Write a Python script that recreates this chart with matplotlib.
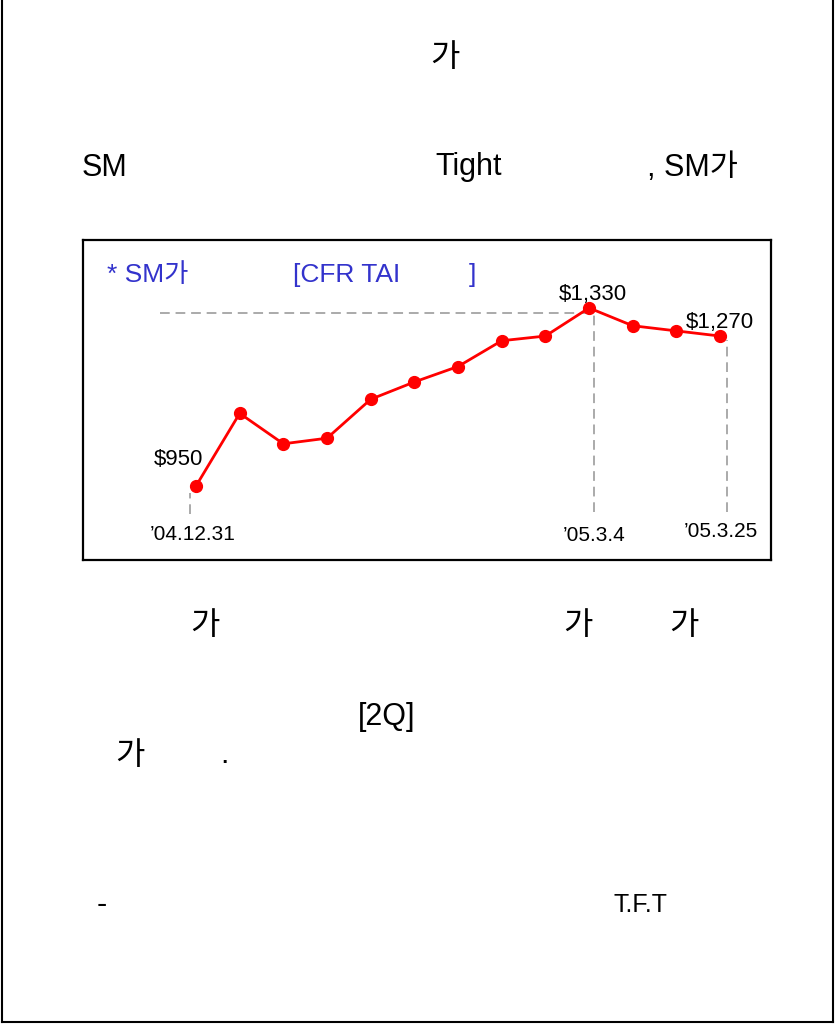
import matplotlib
matplotlib.use("Agg")
import matplotlib.pyplot as plt
from matplotlib.lines import Line2D

plt.rcParams['font.family'] = ['Liberation Sans', 'Noto Sans CJK KR', 'DejaVu Sans']

# weekly SM price, CFR TAI ($)
weeks = ["’04.12.31", "’05.1.7", "’05.1.14", "’05.1.21", "’05.1.28", "’05.2.4",
         "’05.2.11", "’05.2.18", "’05.2.25", "’05.3.4", "’05.3.11", "’05.3.18",
         "’05.3.25"]
price = [950, 1105, 1040, 1052, 1135, 1172, 1205, 1260, 1270, 1330, 1292, 1281, 1270]
labelled = [0, 9, 12]
price_tags = {0: "$950", 9: "$1,330", 12: "$1,270"}

W, H = 835, 1024
fig = plt.figure(figsize=(W / 100, H / 100), dpi=100)

def px(x, y):
    return x / W, 1 - y / H

# page border (left, right, bottom)
for (x0, y0), (x1, y1) in [((2, 0), (2, 1022)), ((833, 0), (833, 1022)), ((2, 1022), (833, 1022))]:
    a, b = px(x0, y0)
    c, d = px(x1, y1)
    fig.add_artist(Line2D([a, c], [b, d], color='black', lw=1.5))

# page text fragments
page_text = [
    (430, 66, "가", 23), (82, 176, "SM", 22), (435, 175, "Tight", 22),
    (647, 176, ", SM가", 22), (190, 634, "가", 23), (563, 634, "가", 23),
    (669, 634, "가", 23), (358, 725, "[2Q]", 22), (115, 764, "가", 23),
    (220, 763, ".", 22), (97, 913, "-", 22), (613, 912, "T.F.T", 18),
]
for x, y, s, fs in page_text:
    fig.text(*px(x, y), s, fontsize=fs, va='baseline', ha='left')

# chart box
l, t, r, b = 83, 240, 771, 560
ax = fig.add_axes([l / W, 1 - b / H, (r - l) / W, (b - t) / H])
for sp in ax.spines.values():
    sp.set_linewidth(1.6)
    sp.set_color('black')
ax.set_xticks([])
ax.set_yticks([])

idx = list(range(len(price)))
ax.set_xlim(-2.588, 13.167)
ax.set_ylim(792, 1475)

y0, y1 = ax.get_ylim()
foot = y0 + 0.15 * (y1 - y0)

gray = '#aaaaaa'
ax.plot([-0.82, idx[9]], [price[9] - 10, price[9] - 10], color=gray, lw=1.4, ls=(0, (5, 3)))
ax.vlines([idx[0] - 0.14], foot - 5, price[0] - 15, color=gray, lw=1.4, ls=(0, (5, 3)))
ax.vlines([idx[9] + 0.11], foot, price[9] - 10, color=gray, lw=1.4, ls=(0, (5, 3)))
ax.vlines([idx[12] + 0.16], foot, price[12] - 8, color=gray, lw=1.4, ls=(0, (5, 3)))

ax.plot(idx, price, color='#ff0000', lw=2, marker='o', markersize=8.5,
        markerfacecolor='#ff0000', markeredgecolor='#ff0000', zorder=3)

tag_off = {0: (-18, 26), 9: (4, 13), 12: (0, 14)}
for i, s in price_tags.items():
    ax.annotate(s, (idx[i], price[i]), xytext=tag_off[i], textcoords='offset pixels',
                ha='center', va='center', fontsize=16)

date_off = {0: -3, 9: 5, 12: 1}
date_y = {0: 0.081, 9: 0.078, 12: 0.088}
for i in labelled:
    ax.annotate(weeks[i], (idx[i], date_y[i]), xycoords=('data', 'axes fraction'),
                xytext=(date_off[i], 0), textcoords='offset pixels',
                ha='center', va='center', fontsize=15)

blue = '#3333cc'
ax.text(0.035, 0.869, "* SM가", transform=ax.transAxes, color=blue, fontsize=19, va='baseline')
ax.text(0.305, 0.869, "[CFR TAI", transform=ax.transAxes, color=blue, fontsize=19, va='baseline')
ax.text(0.56, 0.869, "]", transform=ax.transAxes, color=blue, fontsize=19, va='baseline')

fig.savefig('out.png', dpi=100)
